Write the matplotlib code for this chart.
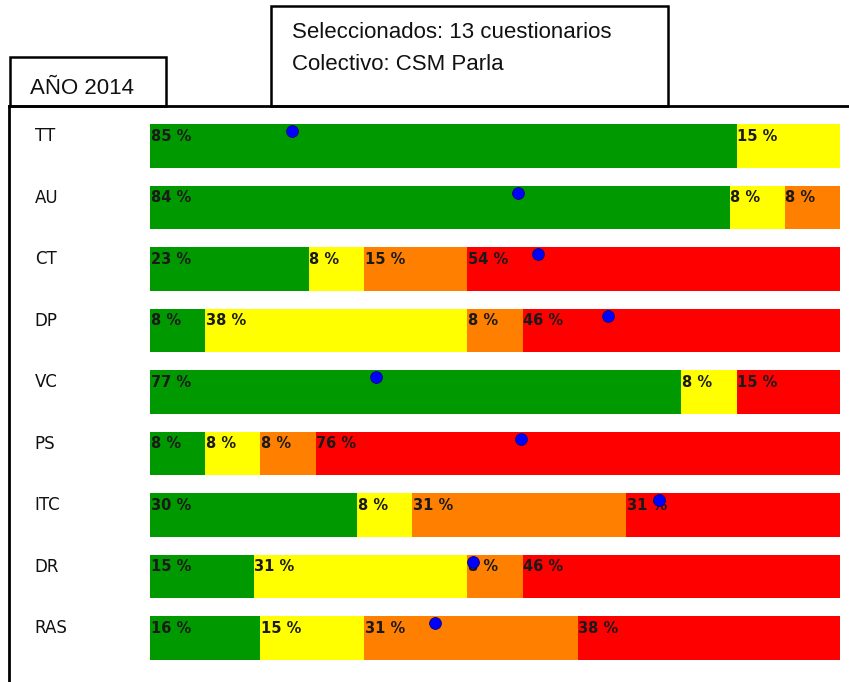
import matplotlib.pyplot as plt
from matplotlib.patches import Rectangle
from matplotlib.lines import Line2D

# Datos: porcentaje de respuestas por nivel (verde, amarillo, naranja, rojo)
categorias = ['TT', 'AU', 'CT', 'DP', 'VC', 'PS', 'ITC', 'DR', 'RAS']
verde = [85, 84, 23, 8, 77, 8, 30, 15, 16]
amarillo = [15, 8, 8, 38, 8, 8, 8, 31, 15]
naranja = [0, 8, 15, 8, 0, 8, 31, 8, 31]
rojo = [0, 0, 54, 46, 15, 76, 31, 46, 38]
# Media de cada escala (punto azul), en la misma escala 0-100
media = [20.6, 53.3, 56.2, 66.4, 32.8, 53.8, 73.8, 46.8, 41.3]

colores = ['#009900', '#ffff00', '#ff8000', '#ff0000']
anio = 'AÑO 2014'
info = ['Seleccionados: 13 cuestionarios', 'Colectivo: CSM Parla']

W, H = 849, 682
fig = plt.figure(figsize=(W / 100, H / 100), dpi=100)
fig.patch.set_facecolor('white')


def fx(px):
    return px / W


def fy(py):
    return 1 - py / H


# marco principal y recuadros de cabecera
fig.add_artist(Line2D([fx(9), fx(9)], [fy(106), fy(H)], color='black', lw=2))
fig.add_artist(Line2D([fx(9), 1], [fy(106), fy(106)], color='black', lw=2))
fig.add_artist(Rectangle((fx(10), fy(106)), fx(156), fy(57) - fy(106),
                         fill=False, ec='black', lw=1.8))
fig.add_artist(Rectangle((fx(271), fy(106)), fx(397), fy(6) - fy(106),
                         fill=False, ec='black', lw=1.8))
fig.text(fx(30), fy(88), anio, fontsize=16, family='Liberation Sans',
         va='center', color='#111111')
for k, linea in enumerate(info):
    fig.text(fx(292), fy(33 + 32 * k), linea, fontsize=16,
             family='Liberation Sans', va='center', color='#111111')

# eje de las barras: 0-100 entre x=150 y x=840
ax = fig.add_axes([fx(150), 0, fx(690), fy(106)])
ax.set_xlim(0, 100)
paso = 61.5
top = (146 - 106) / paso
ax.set_ylim((H - 106) / paso - top, -top)
ax.axis('off')

alto = 0.70
series = [verde, amarillo, naranja, rojo]
for i, cat in enumerate(categorias):
    izq = 0
    for serie, col in zip(series, colores):
        v = serie[i]
        if v == 0:
            continue
        ax.barh(i, v, left=izq, height=alto, color=col, edgecolor='none')
        ax.text(izq + 0.1, i - alto / 2 + 0.19, f'{v} %', fontsize=10.5,
                fontweight='bold', color='#1a1a1a', va='center', ha='left')
        izq += v
    ax.text(-16.7, i - alto / 2 + 0.19, cat, fontsize=12, color='#111111',
            va='center', ha='left', family='DejaVu Sans', clip_on=False)
    ax.plot(media[i], i - alto / 2 + 0.11, 'o', ms=8.5, color='#0000ff',
            mec='#000080', mew=0.6, zorder=5)

fig.savefig('out.png', dpi=100)
